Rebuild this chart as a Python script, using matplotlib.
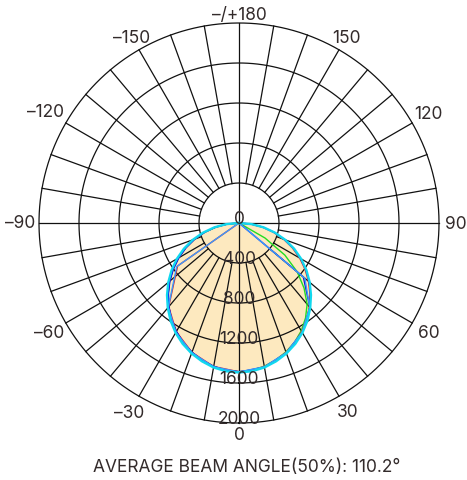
import numpy as np
import matplotlib
matplotlib.use("Agg")
from matplotlib import pyplot as plt

plt.rcParams['font.family'] = ['Inter', 'DejaVu Sans']

# gamma angles (deg) for one half of a C-plane, 0 = straight down
gamma = [0, 5, 10, 15, 20, 25, 30, 35, 40, 45, 50, 55, 60, 65, 70, 75, 80, 85, 90]

# intensity (cd), right half (+) and left half (-)
cyan_r = [1495, 1488, 1467, 1432, 1388, 1333, 1268, 1193, 1108, 1018, 923, 823, 718, 608, 492, 372, 250, 125, 0]
cyan_l = [1495, 1488, 1467, 1432, 1388, 1333, 1268, 1193, 1108, 1018, 923, 823, 718, 608, 492, 372, 250, 125, 0]
red_r = [1488, 1480, 1458, 1422, 1377, 1321, 1255, 1180, 1094, 1003, 907, 806, 700, 590, 475, 356, 238, 117, 0]
red_l = [1488, 1480, 1458, 1422, 1377, 1321, 1255, 1180, 1094, 1003, 907, 806, 700, 590, 475, 356, 238, 117, 0]
blue_r = [1491, 1484, 1463, 1428, 1383, 1328, 1263, 1188, 1103, 1012, 916, 816, 711, 601, 486, 367, 246, 122, 0]
blue_l = [1486, 1478, 1456, 1420, 1375, 1318, 1252, 1176, 1090, 998, 902, 800, 694, 584, 470, 352, 234, 114, 0]
green_r = [1485, 1477, 1455, 1418, 1372, 1315, 1245, 1160, 1060, 920, 760, 560, 300, 0, 0, 0, 0, 0, 0]
green_l = [1487, 1479, 1457, 1421, 1376, 1320, 1254, 1179, 1093, 1002, 906, 805, 699, 589, 474, 355, 237, 116, 0]

# coarser series, these give the straight chords back to the centre
chord_gamma_r = [0, 10, 20, 30, 40, 50, 90]
chord_gamma_l = [0, 10, 20, 30, 40, 55, 90]
sky_r = [1490, 1460, 1380, 1262, 1100, 860, 0]
sky_l = [1490, 1460, 1380, 1262, 1100, 760, 0]
crimson_l = [1488, 1458, 1377, 1255, 1094, 750, 0]
navy_r = [1491, 1463, 1383, 1263, 1103, 840, 0]

rings = [400, 800, 1200, 1600, 2000]
angle_ticks = [-150, -120, -90, -60, -30, 0, 30, 60, 90, 120, 150, 180]
angle_labels = ['–150', '–120', '–90', '–60', '–30', '0', '30', '60', '90', '120', '150', '–/+180']
subtitle = 'AVERAGE BEAM ANGLE(50%): 110.2°'

# where each angle label sits, in pixels from the centre (outer ring = 200)
label_px = [214, 223, 219, 219, 219, 211, 218, 219, 217, 219, 214, 209]

TXT = '#332b2b'


def full(g_r, v_r, g_l, v_l):
    # join left half (negative angles) and right half into one outline
    th = [-g for g in g_l[::-1]] + g_r[1:]
    rr = v_l[::-1] + v_r[1:]
    return np.radians(th), np.array(rr)


fig = plt.figure(figsize=(4.67, 4.81), dpi=100)
ax = fig.add_axes([39 / 467, 57 / 481, 400 / 467, 400 / 481], projection='polar')
ax.set_theta_zero_location('S')
ax.set_theta_direction(1)
ax.set_ylim(0, 2000)
ax.grid(False)
ax.set_xticks([])
ax.set_yticks([])
ax.spines['polar'].set_visible(False)

# light fill under the outer curve
th, rr = full(gamma, cyan_r, gamma, cyan_l)
ax.fill(th, rr, color='#fde9bf', zorder=1, lw=0)

# grid
circ = np.linspace(0, 2 * np.pi, 400)
for r in rings:
    ax.plot(circ, np.full_like(circ, r), color='#111111', lw=0.9, zorder=2, clip_on=False)
for a in range(0, 360, 10):
    r0 = 0 if a % 90 == 0 else 400
    ax.plot([np.radians(a)] * 2, [r0, 2000], color='#111111', lw=0.9, zorder=2, clip_on=False)

# curves
series = [
    (gamma, green_r, gamma, green_l, '#22dd22', 1.0),
    (chord_gamma_r, navy_r, chord_gamma_l, crimson_l, None, 1.0),
    (gamma, red_r, gamma, red_l, '#ee2222', 1.0),
    (gamma, blue_r, gamma, blue_l, '#1111ee', 1.0),
    (chord_gamma_r, sky_r, chord_gamma_l, sky_l, '#3a9bff', 1.0),
    (gamma, cyan_r, gamma, cyan_l, '#11d8ee', 1.7),
]
for g_r, v_r, g_l, v_l, col, lw in series:
    if col is None:
        # right half navy, left half crimson
        ax.plot(np.radians(g_r), v_r, color='#1111cc', lw=lw, zorder=3)
        ax.plot(-np.radians(g_l), v_l, color='#dd2222', lw=lw, zorder=3)
        continue
    th, rr = full(g_r, v_r, g_l, v_l)
    ax.plot(th, rr, color=col, lw=lw, zorder=3)

# ring labels along the bottom axis
ax.text(0, 0, '0', ha='center', va='baseline', fontsize=12.5, color=TXT, zorder=4)
for r in rings:
    ax.text(0, r, str(r), ha='center', va='baseline', fontsize=12.5, color=TXT, zorder=4)

# angle labels
for a, lab, px in zip(angle_ticks, angle_labels, label_px):
    ax.text(np.radians(a), px * 10, lab, ha='center', va='center', fontsize=12.5,
            color=TXT, clip_on=False)

fig.text(247 / 467, 1 - 468 / 481, subtitle, ha='center', va='center', fontsize=12.5, color=TXT)

fig.savefig('out.png', dpi=100)
